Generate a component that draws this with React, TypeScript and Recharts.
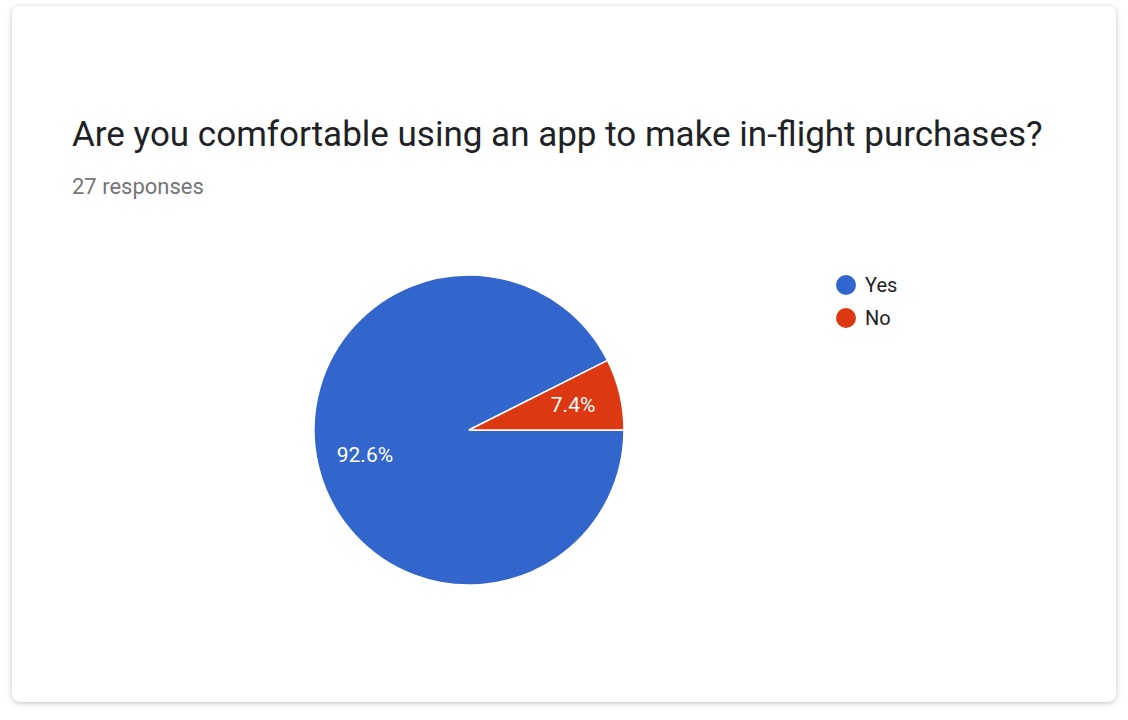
import React from 'react';
import { PieChart, Pie, Cell, Legend } from 'recharts';

const answers = ['Yes', 'No'];
const counts = [25, 2];
const colors = ['#3366CC', '#DC3912'];

const data = answers.map((name, i) => ({ name, value: counts[i] }));
const total = counts.reduce((a, b) => a + b, 0);
// Yes starts where the small No slice ends, so No sits just above 3 o'clock
const startAngle = (counts[1] / total) * 360;

const RAD = Math.PI / 180;

const renderLabel = (props: any) => {
    const { cx, cy, midAngle, outerRadius, percent } = props;
    const r = outerRadius * 0.69;
    const x = cx + r * Math.cos(-midAngle * RAD);
    const y = cy + r * Math.sin(-midAngle * RAD);
    return (
        <text x={x} y={y} fill="#ffffff" textAnchor="middle" dominantBaseline="central" fontSize={21} fontFamily="Roboto, Arial, sans-serif">
            {`${(percent * 100).toFixed(1)}%`}
        </text>
    );
};

const renderLegend = () => (
    <div style={{ fontFamily: 'Roboto, Arial, sans-serif' }}>
        {answers.map((name, i) => (
            <div key={name} style={{ display: 'flex', alignItems: 'center', height: 33 }}>
                <span style={{ width: 20, height: 20, borderRadius: '50%', background: colors[i], display: 'inline-block', marginRight: 9 }} />
                <span style={{ fontSize: 20, color: '#222222' }}>{name}</span>
            </div>
        ))}
    </div>
);

const App: React.FC = () => {
    return (
        <div style={{ position: 'absolute', left: 0, top: 0, width: 1128, height: 720, background: '#ffffff' }}>
            <div
                style={{
                    position: 'absolute',
                    left: 12,
                    top: 6,
                    width: 1104,
                    height: 696,
                    background: '#ffffff',
                    borderRadius: 8,
                    boxShadow: '0 1px 4px rgba(0,0,0,0.18), 0 2px 10px rgba(0,0,0,0.08)',
                    fontFamily: 'Roboto, Arial, sans-serif',
                }}
            >
                <div style={{ position: 'absolute', left: 60, top: 109, fontSize: 35, lineHeight: '40px', color: '#202124', whiteSpace: 'nowrap' }}>
                    Are you comfortable using an app to make in-flight purchases?
                </div>
                <div style={{ position: 'absolute', left: 60, top: 168, fontSize: 22, color: '#757575' }}>
                    {total} responses
                </div>
                <div style={{ position: 'absolute', left: 0, top: 0 }}>
                    <PieChart width={1104} height={696} margin={{ top: 0, right: 0, bottom: 0, left: 0 }}>
                        <Pie
                            data={data}
                            dataKey="value"
                            nameKey="name"
                            cx={457}
                            cy={424}
                            outerRadius={155}
                            startAngle={startAngle}
                            endAngle={startAngle + 360}
                            stroke="#ffffff"
                            strokeWidth={1.5}
                            label={renderLabel}
                            labelLine={false}
                            isAnimationActive={false}
                        >
                            {data.map((d, i) => (
                                <Cell key={d.name} fill={colors[i]} />
                            ))}
                        </Pie>
                        <Legend
                            content={renderLegend}
                            layout="vertical"
                            wrapperStyle={{ position: 'absolute', left: 824, top: 262, width: 150 }}
                        />
                    </PieChart>
                </div>
            </div>
        </div>
    );
};

export default App;
